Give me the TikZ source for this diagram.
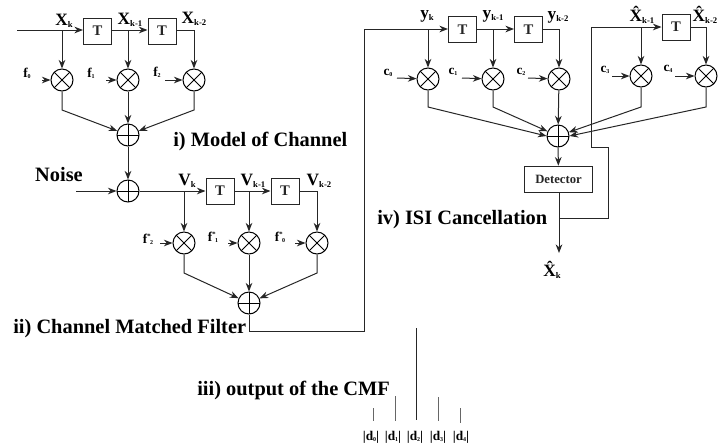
\documentclass[tikz,border=0pt]{standalone}
\usepackage{fontspec}
\setmainfont{Liberation Serif}
\usetikzlibrary{arrows.meta}
\newcommand{\sigl}[2]{{\fontsize{13pt}{14pt}\bfseries #1\raisebox{-1.5pt}{\fontsize{6.5pt}{7pt}\bfseries #2}}}
\newcommand{\coef}[2]{{\fontsize{10pt}{11pt}\bfseries #1\raisebox{-1pt}{\fontsize{4.5pt}{5pt}\bfseries #2}}}
\newcommand{\coefs}[2]{{\fontsize{10pt}{11pt}\bfseries #1\raisebox{3.5pt}{\fontsize{5pt}{5pt}\bfseries *}\kern-0.5pt\raisebox{-1pt}{\fontsize{4.5pt}{5pt}\bfseries #2}}}
\newcommand{\hatx}[1]{{\fontsize{13pt}{14pt}\bfseries \^X\raisebox{-1.5pt}{\fontsize{6.5pt}{7pt}\bfseries #1}}}
\newcommand{\dlab}[1]{{\fontsize{10pt}{11pt}\bfseries \textbar d\raisebox{-1pt}{\fontsize{4.5pt}{5pt}\bfseries #1}\textbar}}
\tikzset{
 wire/.style={line width=0.75pt,black!85},
 arr/.style={wire,-{Stealth[length=6.5pt,width=5pt]}},
 delaybox/.style={draw,line width=0.75pt,black!85,minimum width=21pt,minimum height=19.5pt,inner sep=0pt,font=\fontsize{11pt}{12pt}\bfseries},
 mult/.style={circle,draw,line width=0.75pt,minimum size=16.5pt,inner sep=0pt,path picture={
   \draw[line width=0.6pt] (path picture bounding box.north west)--(path picture bounding box.south east)
     (path picture bounding box.north east)--(path picture bounding box.south west);}},
 summer/.style={circle,draw,line width=0.75pt,minimum size=16.5pt,inner sep=0pt,path picture={
   \draw[line width=0.6pt] (path picture bounding box.north)--(path picture bounding box.south)
     (path picture bounding box.east)--(path picture bounding box.west);}},
 caption/.style={font=\fontsize{15.3pt}{16pt}\bfseries,inner sep=0pt},
 tick/.style={line width=0.6pt,black!60},
 lbl/.style={inner sep=0pt}
}
\begin{document}
\begin{tikzpicture}[x=0.75pt,y=-0.75pt]
\useasboundingbox (0,0) rectangle (724,444);
% --- i) model of channel
\node[delaybox] (t1) at (97.5,31) {T};
\node[delaybox] (t2) at (162,31) {T};
\node[mult] (m1) at (62,80) {};
\node[mult] (m2) at (128,80) {};
\node[mult] (m3) at (194,80) {};
\node[summer] (s1) at (128,135) {};
\node[summer] (s2) at (128,191) {};
\coordinate (in1) at (17,30);
\coordinate (j1) at (62,30);
\coordinate (j2) at (128,30);
\coordinate (j3) at (194,30);
\draw[arr] (in1) -- (t1.west|-in1);
\draw[arr] (t1.east|-j2) -- (t2.west|-j2);
\draw[wire] (t2.east|-j3) -- (j3);
\draw[arr] (j1) -- (m1);
\draw[arr] (j2) -- (m2);
\draw[arr] (j3) -- (m3);
\coordinate (b1) at (62,110);
\coordinate (b3) at (194,110);
\draw[arr] (m1) -- (b1) -- (s1);
\draw[arr] (m2) -- (s1);
\draw[arr] (m3) -- (b3) -- (s1);
\draw[arr] (s1) -- (s2);
\node[lbl] (lx0) at (64,21) {\sigl{X}{k}};
\node[lbl] (lx1) at (130,20) {\sigl{X}{k-1}};
\node[lbl] (lx2) at (194,19) {\sigl{X}{k-2}};
\node[lbl] (lf0) at (27,73) {\coef{f}{0}};
\node[lbl] (lf1) at (91,73) {\coef{f}{1}};
\node[lbl] (lf2) at (157,72) {\coef{f}{2}};
\coordinate (if0) at (42,80);
\coordinate (if1) at (106,80);
\coordinate (if2) at (165,80);
\draw[arr] (if0) -- (m1);
\draw[arr] (if1) -- (m2);
\draw[arr] (if2) -- (m3);
\node[caption,anchor=west] (c1) at (173,141) {i) Model of Channel};
\node[caption] (noise) at (59,175) {Noise};
% --- ii) channel matched filter
\coordinate (in2) at (76,191);
\draw[arr] (in2) -- (s2);
\node[delaybox] (t3) at (220,191) {T};
\node[delaybox] (t4) at (285,191) {T};
\node[mult] (m4) at (184,243) {};
\node[mult] (m5) at (249,243) {};
\node[mult] (m6) at (317,243) {};
\node[summer] (s3) at (249,303) {};
\coordinate (j4) at (184,191);
\coordinate (j5) at (249,191);
\coordinate (j6) at (317,191);
\draw[arr] (s2) -- (t3);
\draw[arr] (t3) -- (t4);
\draw[wire] (t4.east) -- (j6);
\draw[arr] (j4) -- (m4);
\draw[arr] (j5) -- (m5);
\draw[arr] (j6) -- (m6);
\coordinate (b4) at (184,273);
\coordinate (b6) at (317,273);
\draw[arr] (m4) -- (b4) -- (s3);
\draw[arr] (m5) -- (s3);
\draw[arr] (m6) -- (b6) -- (s3);
\node[lbl] (lv0) at (187,181) {\sigl{V}{k}};
\node[lbl] (lv1) at (253,181) {\sigl{V}{k-1}};
\node[lbl] (lv2) at (319,181) {\sigl{V}{k-2}};
\node[lbl] (lg0) at (148,239) {\coefs{f}{2}};
\node[lbl] (lg1) at (213,237) {\coefs{f}{1}};
\node[lbl] (lg2) at (280,237) {\coefs{f}{0}};
\coordinate (ig0) at (160,243);
\coordinate (ig1) at (228,243);
\coordinate (ig2) at (295,243);
\draw[arr] (ig0) -- (m4);
\draw[arr] (ig1) -- (m5);
\draw[arr] (ig2) -- (m6);
\node[caption,anchor=west] (c2) at (13,329) {ii) Channel Matched Filter};
% --- iv) ISI cancellation
\node[delaybox] (t5) at (462.5,29.5) {T};
\node[delaybox] (t6) at (528.5,29.5) {T};
\node[delaybox] (t7) at (676,27) {T};
\node[mult] (m7) at (428,79) {};
\node[mult] (m8) at (493,79) {};
\node[mult] (m9) at (559,79) {};
\node[mult] (m10) at (641,76) {};
\node[mult] (m11) at (706,76) {};
\node[summer] (s4) at (558,136) {};
\node[draw,line width=0.75pt,black!85,minimum width=51.5pt,minimum height=20pt,inner sep=0pt,font=\fontsize{9.5pt}{10pt}\bfseries] (det) at (558.5,179.5) {Detector};
\coordinate (r1) at (249,331);
\coordinate (r2) at (364,331);
\coordinate (r3) at (364,29);
\coordinate (j7) at (428,29);
\coordinate (j8) at (493,29);
\coordinate (j9) at (559,29);
\draw[arr] (s3) -- (r1) -- (r2) -- (r3) -- (t5.west|-r3);
\draw[arr] (t5.east|-j8) -- (t6.west|-j8);
\draw[wire] (t6.east|-j9) -- (j9);
\draw[arr] (j7) -- (m7);
\draw[arr] (j8) -- (m8);
\draw[arr] (j9) -- (m9);
\coordinate (b7) at (428,107);
\coordinate (b8) at (493,107);
\coordinate (b10) at (641,107);
\coordinate (b11) at (706,107);
\draw[arr] (m7) -- (b7) -- (s4.west);
\draw[arr] (m8) -- (b8) -- (s4);
\draw[arr] (m9) -- (s4);
\draw[arr] (m10) -- (b10) -- (s4);
\draw[arr] (m11) -- (b11) -- (s4.east);
\draw[arr] (s4) -- (det);
\coordinate (o1) at (559,218);
\coordinate (o2) at (608,218);
\coordinate (o3) at (608,147);
\coordinate (o4) at (591,147);
\coordinate (o5) at (591,27);
\coordinate (j10) at (641,27);
\coordinate (j11) at (706,27);
\coordinate (xout) at (559,253);
\draw[arr] (det.south-|xout) -- (xout);
\draw[arr] (o1) -- (o2) -- (o3) -- (o4) -- (o5) -- (t7);
\draw[wire] (t7) -- (j11);
\draw[arr] (j10) -- (m10);
\draw[arr] (j11) -- (m11);
\node[lbl] (ly0) at (427,16) {\sigl{y}{k}};
\node[lbl] (ly1) at (493,16) {\sigl{y}{k-1}};
\node[lbl] (ly2) at (558,17) {\sigl{y}{k-2}};
\node[lbl] (lh1) at (642,15) {\hatx{k-1}};
\node[lbl] (lh2) at (705,15) {\hatx{k-2}};
\node[lbl] (lh0) at (552,270) {\hatx{k}};
\node[lbl] (lc0) at (388,73) {\coef{c}{0}};
\node[lbl] (lc1) at (453,72) {\coef{c}{1}};
\node[lbl] (lc2) at (521,72) {\coef{c}{2}};
\node[lbl] (lc3) at (605,70) {\coef{c}{3}};
\node[lbl] (lc4) at (668,69) {\coef{c}{4}};
\coordinate (ic0) at (397,78);
\coordinate (ic1) at (462,78);
\coordinate (ic2) at (528,78);
\coordinate (ic3) at (612,76);
\coordinate (ic4) at (675,76);
\draw[arr] (ic0) -- (m7);
\draw[arr] (ic1) -- (m8);
\draw[arr] (ic2) -- (m9);
\draw[arr] (ic3) -- (m10);
\draw[arr] (ic4) -- (m11);
\node[caption,anchor=west] (c4) at (377,220) {iv) ISI Cancellation};
% --- iii) output of the CMF
\node[caption,anchor=west] (c3) at (197,390) {iii) output of the CMF};
\coordinate (p0a) at (373,408); \coordinate (p0b) at (373,421);
\coordinate (p1a) at (395,396); \coordinate (p1b) at (395,421);
\coordinate (p2a) at (416.5,328); \coordinate (p2b) at (416.5,420);
\coordinate (p3a) at (438,397); \coordinate (p3b) at (438,421);
\coordinate (p4a) at (460,408); \coordinate (p4b) at (460,423);
\draw[tick] (p0a) -- (p0b);
\draw[tick] (p1a) -- (p1b);
\draw[line width=0.8pt,black!85] (p2a) -- (p2b);
\draw[tick] (p3a) -- (p3b);
\draw[tick] (p4a) -- (p4b);
\node[lbl] (ld0) at (371,437) {\dlab{0}};
\node[lbl] (ld1) at (393,437) {\dlab{1}};
\node[lbl] (ld2) at (415,437) {\dlab{2}};
\node[lbl] (ld3) at (438,437) {\dlab{3}};
\node[lbl] (ld4) at (461,437) {\dlab{4}};
\end{tikzpicture}
\end{document}
